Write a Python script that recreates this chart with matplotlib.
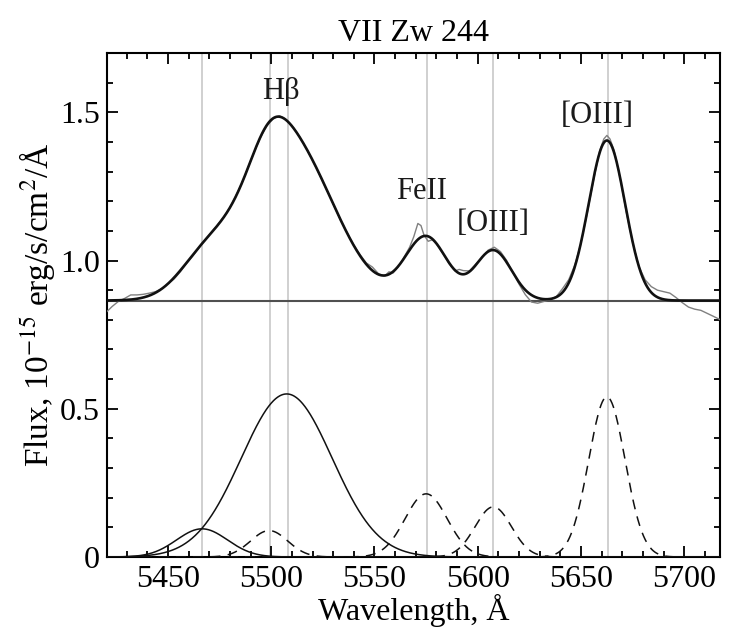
import numpy as np
import matplotlib
matplotlib.use('Agg')
import matplotlib.pyplot as plt

plt.rcParams['font.family'] = ['Liberation Serif', 'DejaVu Serif']
plt.rcParams['mathtext.fontset'] = 'stix'

TITLE = 'VII Zw 244'

# fitted continuum level and gaussian components (center, peak, sigma in A)
continuum = 0.865
comp_center = [5466.5, 5507.5, 5499.0, 5575.0, 5607.5, 5662.5]
comp_peak = [0.095, 0.55, 0.089, 0.213, 0.169, 0.54]
comp_sigma = [12.3, 22.0, 9.0, 10.2, 8.8, 8.8]
comp_dashed = [False, False, True, True, True, True]

# vertical reference lines
marker_wave = [5466.5, 5499.5, 5508.0, 5575.2, 5607.5, 5662.8]

# line labels
label_text = ['H\u03b2', 'FeII', '[OIII]', '[OIII]']
label_x = [5504.5, 5573.0, 5607.5, 5658.0]
label_y = [1.545, 1.206, 1.100, 1.463]

obs_wave = [5420.5, 5423, 5426, 5429, 5432, 5435, 5438, 5441, 5444, 5447,
            5450, 5453, 5456, 5459, 5462, 5465, 5468, 5471, 5474, 5477,
            5480, 5483, 5486, 5489, 5492, 5495, 5498, 5501, 5504, 5507,
            5510, 5513, 5516, 5519, 5522, 5525, 5528, 5531, 5534, 5537,
            5540, 5543, 5546, 5549, 5552, 5555, 5557, 5559, 5561, 5563,
            5565, 5567, 5569, 5571, 5572.5, 5574, 5576, 5578, 5580, 5583,
            5586, 5589, 5591, 5593, 5596, 5599, 5602, 5605, 5608, 5611,
            5614, 5617, 5620, 5623, 5626, 5629, 5632, 5635, 5638, 5641,
            5644, 5647, 5650, 5653, 5656, 5659, 5661, 5662.5, 5664, 5666,
            5669, 5672, 5675, 5678, 5681, 5684, 5687, 5690, 5693, 5696,
            5699, 5702, 5705, 5708, 5711, 5714, 5717.5]
obs_flux = [0.828, 0.845, 0.862, 0.872, 0.884, 0.884, 0.886, 0.890, 0.895, 0.905,
            0.922, 0.938, 0.962, 0.990, 1.015, 1.043, 1.070, 1.095, 1.120, 1.147,
            1.178, 1.220, 1.264, 1.318, 1.370, 1.418, 1.455, 1.478, 1.488, 1.476,
            1.455, 1.425, 1.390, 1.352, 1.310, 1.265, 1.222, 1.175, 1.130, 1.090,
            1.052, 1.020, 0.992, 0.978, 0.955, 0.948, 0.962, 0.958, 0.975, 0.995,
            1.020, 1.045, 1.080, 1.125, 1.118, 1.085, 1.065, 1.070, 1.056, 1.025,
            0.990, 0.965, 0.970, 0.966, 0.965, 0.988, 1.010, 1.035, 1.045, 1.030,
            1.000, 0.960, 0.920, 0.885, 0.860, 0.856, 0.862, 0.868, 0.878, 0.905,
            0.935, 0.985, 1.060, 1.160, 1.270, 1.370, 1.410, 1.422, 1.410, 1.372,
            1.275, 1.160, 1.060, 0.980, 0.935, 0.912, 0.900, 0.895, 0.890, 0.875,
            0.858, 0.843, 0.836, 0.832, 0.822, 0.812, 0.800]

XMIN, XMAX = 5420.5, 5717.5


def gauss(x, c, a, s):
    return a * np.exp(-(x - c) ** 2 / (2 * s ** 2))


wave = np.linspace(XMIN, XMAX, 1500)
comps = [gauss(wave, c, a, s) for c, a, s in zip(comp_center, comp_peak, comp_sigma)]
model = continuum + np.sum(comps, axis=0)

fig = plt.figure(figsize=(7.55, 6.32), dpi=100)
ax = fig.add_axes([0.1417, 0.1187, 0.9543 - 0.1417, 0.9161 - 0.1187])

for w in marker_wave:
    ax.axvline(w, color='#c8c8c8', lw=1.2, zorder=1)

ax.axhline(continuum, color='#505050', lw=1.5, zorder=2)
ax.plot(obs_wave, obs_flux, color='#808080', lw=1.0, zorder=3)
ax.plot(wave, model, color='#111111', lw=1.9, zorder=4)

for y, dashed in zip(comps, comp_dashed):
    if dashed:
        ax.plot(wave, y, color='#111111', lw=1.1, dashes=(6.5, 4.8), zorder=4)
    else:
        ax.plot(wave, y, color='#111111', lw=1.1, zorder=4)

for t, x, y in zip(label_text, label_x, label_y):
    ax.text(x, y, t, fontsize=22, ha='center', va='baseline', color='#1a1a1a')

ax.set_xlim(XMIN, XMAX)
ax.set_ylim(0, 1.7)
ax.set_xticks([5450, 5500, 5550, 5600, 5650, 5700])
ax.set_xticks(np.arange(5430, 5720, 10), minor=True)
ax.set_yticks([0, 0.5, 1.0, 1.5])
ax.set_yticklabels(['0', '0.5', '1.0', '1.5'])
ax.set_yticks(np.arange(0, 1.71, 0.1), minor=True)

ax.tick_params(which='both', direction='in', top=True, right=True,
               labelsize=23, width=1.4, color='#111111')
ax.tick_params(which='major', length=8)
ax.tick_params(which='minor', length=4.5)
ax.tick_params(axis='x', pad=6)
ax.tick_params(axis='y', pad=5)
for sp in ax.spines.values():
    sp.set_linewidth(1.5)

ax.set_title(TITLE, fontsize=23, pad=9)
ax.set_xlabel('Wavelength, \u00c5', fontsize=23, labelpad=0)
ax.set_ylabel('Flux, 10$^{-15}$ erg/s/cm$^2$/\u00c5', fontsize=24, labelpad=2)

fig.savefig('out.png', dpi=100)
